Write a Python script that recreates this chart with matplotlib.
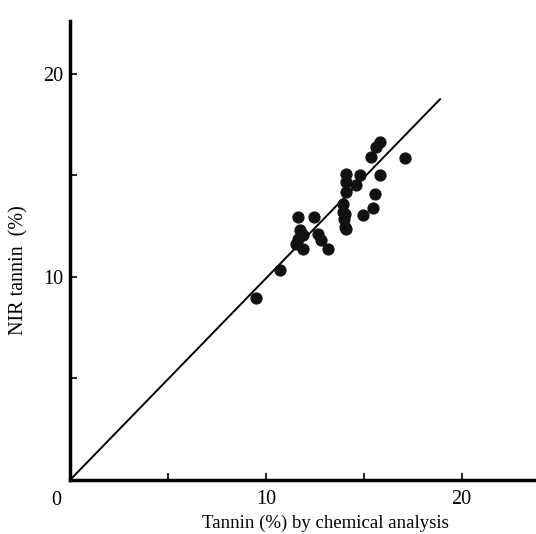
import numpy as np
import matplotlib.pyplot as plt

# tannin by chemical analysis (%) vs NIR predicted tannin (%)
chem = [9.49, 10.71,
        11.65, 12.47, 11.73, 11.65, 11.90, 11.56, 11.90, 12.67, 12.84, 13.18,
        14.03, 14.03,
        15.82, 15.65, 15.39, 17.09, 14.12, 14.80, 15.85, 14.12, 14.63, 14.12,
        15.56, 13.94, 15.47, 14.96, 13.94, 13.98, 14.12]
nir = [8.97, 10.33,
       12.96, 12.96, 12.30, 11.89, 12.05, 11.64, 11.39, 12.13, 11.81, 11.39,
       12.46, 13.12,
       16.65, 16.40, 15.91, 15.83, 15.09, 15.01, 15.01, 14.68, 14.52, 14.19,
       14.07, 13.61, 13.40, 13.07, 13.20, 12.87, 12.38]
fit_x = [0, 18.9]
fit_y = [0, 18.75]

plt.rcParams['font.family'] = ['Liberation Serif', 'DejaVu Serif']

fig = plt.figure(figsize=(5.36, 5.34), dpi=100)
ax = fig.add_axes([0.1306, 0.1011, 0.8694, 0.8596])

ax.plot(fit_x, fit_y, color='black', lw=1.4)
ax.plot(chem, nir, 'o', color='#111111', ms=7.8, mec='#111111')

ax.set_xlim(0, 23.8)
ax.set_ylim(0, 22.6)
for s in ['top', 'right']:
    ax.spines[s].set_visible(False)
for s in ['left', 'bottom']:
    ax.spines[s].set_linewidth(2.5)

ax.set_xticks([10, 20])
ax.set_xticks([5, 15], minor=True)
ax.set_yticks([10, 20])
ax.set_yticks([5, 15], minor=True)
ax.tick_params(which='both', direction='in', length=5, width=1.2,
               labelsize=14.5, pad=7)
ax.tick_params(axis='y', pad=5)
ax.text(-0.45, -0.55, '0', ha='right', va='top', fontsize=14.5)

ax.set_xlabel('Tannin (%) by chemical analysis', fontsize=13.5)
ax.xaxis.set_label_coords(0.549, -0.075)
ax.set_ylabel('NIR tannin  (%)', fontsize=14.5)
ax.yaxis.set_label_coords(-0.09, 0.457)

fig.savefig('out.png', dpi=100)
